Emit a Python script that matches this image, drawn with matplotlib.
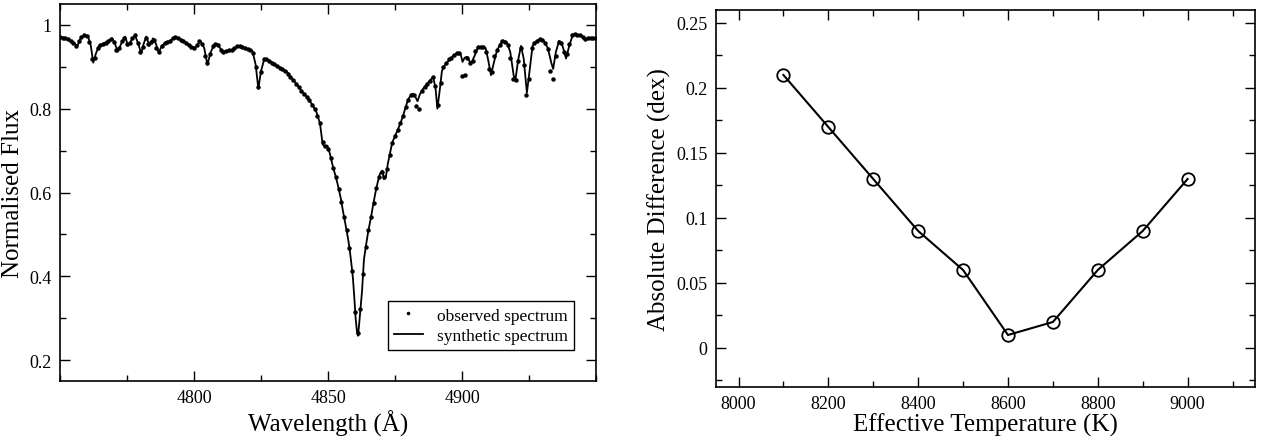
import numpy as np
import matplotlib.pyplot as plt
from matplotlib.ticker import MultipleLocator, FixedLocator, FormatStrFormatter

plt.rcParams['font.family'] = ['Liberation Serif', 'DejaVu Serif']

# Synthetic spectrum (wavelength in Angstrom, normalised flux)
syn_wl = [4750.0, 4752.0, 4754.0, 4755.5, 4756.5, 4757.8, 4759.0, 4760.4, 4761.5, 4762.4,
          4763.3, 4764.5, 4766.0, 4768.0, 4769.5, 4770.5, 4771.6, 4772.8, 4774.3, 4775.4,
          4776.5, 4778.0, 4779.2, 4780.3, 4781.2, 4782.2, 4783.4, 4784.7, 4785.8, 4786.8,
          4788.0, 4789.5, 4791.0, 4793.0, 4795.0, 4797.0, 4798.9, 4800.5, 4802.4, 4803.8,
          4805.0, 4806.2, 4807.5, 4808.8, 4810.6, 4812.0, 4814.0, 4816.4, 4818.0, 4820.0,
          4821.8, 4823.0, 4824.0, 4825.0, 4826.2, 4827.5, 4829.5, 4831.0, 4833.0, 4834.7,
          4836.5, 4837.7, 4839.0, 4840.7, 4842.0, 4843.3, 4844.4, 4845.8, 4847.0, 4848.0,
          4849.0, 4849.8, 4850.6, 4851.9, 4853.0, 4853.7, 4854.8, 4855.6, 4856.5, 4857.0,
          4857.6, 4858.2, 4858.8, 4859.3, 4859.8, 4860.3, 4860.8, 4861.2, 4861.6, 4862.2,
          4862.7, 4863.4, 4864.2, 4865.0, 4866.0, 4866.8, 4867.7, 4868.6, 4869.4, 4870.2,
          4870.9, 4871.6, 4872.3, 4873.0, 4874.0, 4875.7, 4877.0, 4878.0, 4879.0, 4880.0,
          4881.0, 4881.7, 4882.6, 4883.4, 4884.3, 4885.5, 4887.0, 4888.0, 4889.2, 4890.1,
          4890.8, 4891.6, 4892.5, 4893.5, 4895.5, 4897.0, 4898.5, 4899.4, 4900.2, 4901.0,
          4902.0, 4903.3, 4904.6, 4906.0, 4907.5, 4908.8, 4909.8, 4910.8, 4911.8, 4913.0,
          4914.3, 4915.5, 4916.8, 4918.0, 4919.3, 4920.0, 4920.9, 4922.0, 4923.0, 4924.2,
          4925.2, 4926.3, 4927.5, 4929.0, 4930.5, 4932.0, 4933.3, 4934.0, 4935.0, 4936.2,
          4937.5, 4938.8, 4940.0, 4941.4, 4943.0, 4944.5, 4946.0, 4947.5, 4949.0, 4950.0]
syn_flux = [0.972, 0.968, 0.962, 0.955, 0.950, 0.970, 0.975, 0.974, 0.950, 0.910,
            0.930, 0.950, 0.955, 0.962, 0.968, 0.955, 0.936, 0.955, 0.972, 0.950,
            0.962, 0.975, 0.955, 0.932, 0.955, 0.972, 0.950, 0.968, 0.955, 0.934,
            0.950, 0.958, 0.962, 0.972, 0.965, 0.958, 0.948, 0.946, 0.962, 0.945,
            0.905, 0.935, 0.952, 0.955, 0.935, 0.938, 0.940, 0.950, 0.948, 0.942,
            0.938, 0.905, 0.848, 0.890, 0.918, 0.918, 0.908, 0.903, 0.895, 0.888,
            0.872, 0.864, 0.852, 0.838, 0.829, 0.817, 0.807, 0.790, 0.765, 0.715,
            0.708, 0.712, 0.695, 0.660, 0.635, 0.617, 0.585, 0.555, 0.525, 0.507,
            0.485, 0.458, 0.425, 0.395, 0.350, 0.300, 0.268, 0.258, 0.285, 0.330,
            0.365, 0.440, 0.475, 0.507, 0.540, 0.569, 0.600, 0.626, 0.645, 0.652,
            0.632, 0.638, 0.668, 0.690, 0.720, 0.745, 0.765, 0.783, 0.805, 0.824,
            0.832, 0.836, 0.828, 0.818, 0.835, 0.848, 0.860, 0.867, 0.876, 0.850,
            0.800, 0.840, 0.890, 0.903, 0.919, 0.928, 0.934, 0.932, 0.912, 0.922,
            0.924, 0.907, 0.925, 0.948, 0.948, 0.945, 0.915, 0.880, 0.908, 0.938,
            0.955, 0.963, 0.958, 0.935, 0.878, 0.872, 0.915, 0.950, 0.920, 0.838,
            0.890, 0.950, 0.960, 0.966, 0.962, 0.945, 0.910, 0.895, 0.935, 0.962,
            0.950, 0.920, 0.950, 0.978, 0.976, 0.975, 0.966, 0.970, 0.968, 0.970]

# Observed spectrum, one reading per Angstrom from 4750 to 4950
obs_wl = np.arange(4750, 4951, 1.0)
obs_flux = [0.972, 0.970, 0.968, 0.966, 0.962, 0.957, 0.950, 0.962, 0.972, 0.975,
            0.974, 0.960, 0.918, 0.922, 0.945, 0.952, 0.955, 0.958, 0.962, 0.966,
            0.960, 0.940, 0.945, 0.962, 0.970, 0.955, 0.958, 0.970, 0.975, 0.958,
            0.936, 0.948, 0.970, 0.955, 0.960, 0.965, 0.945, 0.936, 0.950, 0.956,
            0.960, 0.962, 0.968, 0.972, 0.968, 0.965, 0.962, 0.958, 0.952, 0.948,
            0.946, 0.952, 0.962, 0.955, 0.925, 0.908, 0.930, 0.950, 0.955, 0.952,
            0.940, 0.936, 0.938, 0.940, 0.940, 0.945, 0.950, 0.950, 0.948, 0.945,
            0.942, 0.940, 0.932, 0.900, 0.852, 0.888, 0.918, 0.918, 0.914, 0.910,
            0.906, 0.903, 0.898, 0.895, 0.890, 0.884, 0.875, 0.868, 0.860, 0.852,
            0.843, 0.836, 0.829, 0.820, 0.810, 0.800, 0.782, 0.765, 0.720, 0.710,
            0.705, 0.682, 0.658, 0.636, 0.608, 0.578, 0.542, 0.510, 0.468, 0.412,
            0.315, 0.265, 0.322, 0.405, 0.470, 0.510, 0.542, 0.575, 0.610, 0.636,
            0.650, 0.638, 0.655, 0.690, 0.718, 0.735, 0.750, 0.766, 0.783, 0.803,
            0.822, 0.832, 0.832, 0.806, 0.800, 0.842, 0.852, 0.860, 0.867, 0.875,
            0.855, 0.808, 0.862, 0.900, 0.910, 0.918, 0.922, 0.928, 0.932, 0.934,
            0.878, 0.880, 0.922, 0.908, 0.915, 0.938, 0.948, 0.948, 0.947, 0.935,
            0.895, 0.888, 0.925, 0.940, 0.952, 0.962, 0.960, 0.952, 0.920, 0.872,
            0.868, 0.915, 0.945, 0.905, 0.832, 0.872, 0.945, 0.958, 0.962, 0.966,
            0.964, 0.958, 0.942, 0.890, 0.872, 0.925, 0.960, 0.958, 0.935, 0.930,
            0.955, 0.975, 0.978, 0.975, 0.976, 0.972, 0.966, 0.968, 0.970, 0.968,
            0.970]

# Right panel: abundance difference vs. effective temperature
teff = [8100, 8200, 8300, 8400, 8500, 8600, 8700, 8800, 8900, 9000]
abs_diff = [0.21, 0.17, 0.13, 0.09, 0.06, 0.01, 0.02, 0.06, 0.09, 0.13]

fig = plt.figure(figsize=(12.66, 4.39), dpi=100)
ax1 = fig.add_axes([0.0474, 0.1298, 0.4234, 0.8588])
ax2 = fig.add_axes([0.5656, 0.1162, 0.4257, 0.8588])

ax1.plot(syn_wl, syn_flux, color='black', lw=1.3, label='synthetic spectrum')
ax1.plot(obs_wl, obs_flux, ls='none', marker='o', ms=2.2, color='black',
         label='observed spectrum')
ax1.set_xlim(4750, 4950)
ax1.set_ylim(0.15, 1.05)
ax1.xaxis.set_major_locator(FixedLocator([4800, 4850, 4900]))
ax1.xaxis.set_minor_locator(MultipleLocator(25))
ax1.yaxis.set_major_locator(MultipleLocator(0.2))
ax1.yaxis.set_minor_locator(MultipleLocator(0.1))
ax1.yaxis.set_major_formatter(FormatStrFormatter('%g'))
ax1.set_xlabel('Wavelength (Å)', fontsize=18, labelpad=2)
ax1.set_ylabel('Normalised Flux', fontsize=18, labelpad=4)
handles, labels = ax1.get_legend_handles_labels()
leg = ax1.legend(handles[::-1], labels[::-1], loc='lower right',
                 bbox_to_anchor=(0.959, 0.082), borderaxespad=0, fontsize=12.5,
                 frameon=True, fancybox=False, edgecolor='black', framealpha=1,
                 handlelength=1.7, borderpad=0.35, labelspacing=0.25,
                 handletextpad=0.8, markerscale=0.7)
leg.get_frame().set_linewidth(1.0)

ax2.plot(teff, abs_diff, color='black', lw=1.5, marker='o', ms=9,
         mfc='none', mec='black', mew=1.3)
ax2.set_xlim(7950, 9150)
ax2.set_ylim(-0.03, 0.26)
ax2.xaxis.set_major_locator(MultipleLocator(200))
ax2.xaxis.set_minor_locator(MultipleLocator(100))
ax2.yaxis.set_major_locator(MultipleLocator(0.05))
ax2.yaxis.set_minor_locator(MultipleLocator(0.025))
ax2.yaxis.set_major_formatter(FormatStrFormatter('%g'))
ax2.set_xlabel('Effective Temperature (K)', fontsize=18, labelpad=0)
ax2.set_ylabel('Absolute Difference (dex)', fontsize=18, labelpad=4)

for ax in (ax1, ax2):
    for sp in ax.spines.values():
        sp.set_linewidth(1.2)
    ax.tick_params(which='both', direction='in', top=True, right=True,
                   width=1.0, labelsize=13)
    ax.tick_params(which='major', length=7, pad=6)
    ax.tick_params(which='minor', length=4)

fig.savefig('out.png', dpi=100)
